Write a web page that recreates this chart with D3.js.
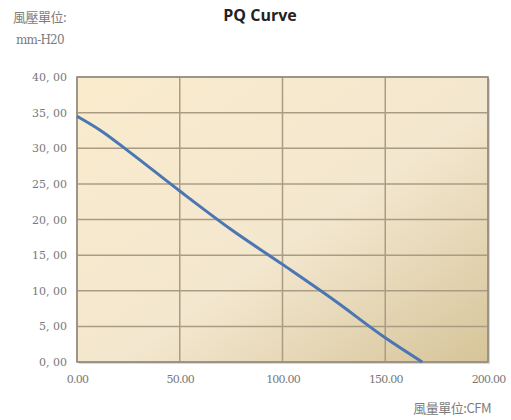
<!DOCTYPE html>
<html>
<head>
<meta charset="utf-8">
<script src="https://cdn.jsdelivr.net/npm/d3@7"></script>
<style>
  body { margin: 0; background: #fff; }
  svg { display: block; }
</style>
</head>
<body>
<div id="chart"></div>
<script>
// air flow (CFM) vs static pressure (mm-H2O)
const flow = [0, 12, 25, 50, 75, 100, 125, 150, 168];
const pressure = [34.5, 32.4, 29.6, 24.0, 18.6, 13.7, 8.7, 3.4, 0];
const xTicks = [0, 50, 100, 150, 200];
const yTicks = [0, 5, 10, 15, 20, 25, 30, 35, 40];

const W = 511, H = 420;
const margin = {top: 77, right: 23, bottom: 58, left: 77};
const width = W - margin.left - margin.right,
height = H - margin.top - margin.bottom;

const svg = d3.select("#chart")
.append("svg")
.attr("width", W)
.attr("height", H);

const defs = svg.append("defs");
const grad = defs.append("linearGradient")
.attr("id", "bg")
.attr("x1", "0%").attr("y1", "0%")
.attr("x2", "100%").attr("y2", "100%");
grad.append("stop").attr("offset", "0%").attr("stop-color", "#faebcc");
grad.append("stop").attr("offset", "55%").attr("stop-color", "#f3e7cf");
grad.append("stop").attr("offset", "100%").attr("stop-color", "#d6c499");

const g = svg.append("g")
.attr("transform", "translate(" + margin.left + "," + margin.top + ")");

const x = d3.scaleLinear().domain([0, 200]).range([0, width]);
const y = d3.scaleLinear().domain([0, 40]).range([height, 0]);

// shadow + background
g.append("rect")
.attr("x", 2).attr("y", 2)
.attr("width", width).attr("height", height)
.attr("fill", "#d8d8d8");
g.append("rect")
.attr("width", width).attr("height", height)
.attr("fill", "url(#bg)");

// grid
g.selectAll(".hgrid")
.data(yTicks)
.enter()
.append("line")
.attr("x1", 0).attr("x2", width)
.attr("y1", d => y(d)).attr("y2", d => y(d))
.attr("stroke", "#aa9c84")
.attr("stroke-width", 1.5);

g.selectAll(".vgrid")
.data(xTicks)
.enter()
.append("line")
.attr("y1", 0).attr("y2", height)
.attr("x1", d => x(d)).attr("x2", d => x(d))
.attr("stroke", "#aa9c84")
.attr("stroke-width", 1.5);

g.append("rect")
.attr("width", width).attr("height", height)
.attr("fill", "none")
.attr("stroke", "#968e84")
.attr("stroke-width", 1.6);

// axes (text only)
const xAxis = g.append("g")
.attr("transform", "translate(0," + height + ")")
.call(d3.axisBottom(x).tickValues(xTicks).tickSize(0).tickPadding(13).tickFormat(d => d.toFixed(2)));
const yAxis = g.append("g")
.call(d3.axisLeft(y).tickValues(yTicks).tickSize(0).tickPadding(10).tickFormat(d => d3.format(".2f")(d).replace(".", ", ")));

[xAxis, yAxis].forEach(a => {
    a.select(".domain").remove();
    a.selectAll("text")
    .attr("fill", "#787878")
    .style("font-family", "'DejaVu Serif', serif")
    .style("font-size", "11px");
});
xAxis.selectAll("text").style("letter-spacing", "-0.8px");

// curve
const pts = flow.map((f, i) => [f, pressure[i]]);
const line = d3.line()
.x(d => x(d[0]))
.y(d => y(d[1]))
.curve(d3.curveMonotoneX);

g.append("path")
.datum(pts)
.attr("d", line)
.attr("fill", "none")
.attr("stroke", "#4a76b4")
.attr("stroke-width", 3);

// title and unit labels
svg.append("text")
.attr("x", 260).attr("y", 21)
.attr("text-anchor", "middle")
.style("font-family", "'Open Sans', sans-serif")
.style("font-weight", "bold")
.style("font-size", "16px")
.attr("fill", "#222")
.text("PQ Curve");

svg.append("text")
.attr("x", 13).attr("y", 22)
.style("font-family", "'Noto Sans CJK TC', sans-serif")
.style("font-size", "13px")
.style("letter-spacing", "-0.5px")
.attr("fill", "#7c7c7c")
.text("風壓單位:");
svg.append("text")
.attr("x", 16).attr("y", 44)
.style("font-family", "'DejaVu Serif', serif")
.style("font-size", "12px")
.style("letter-spacing", "-0.8px")
.attr("fill", "#7c7c7c")
.text("mm-H20");

svg.append("text")
.attr("x", 491).attr("y", 413)
.attr("text-anchor", "end")
.style("font-family", "'Noto Sans CJK TC', sans-serif")
.style("font-size", "13px")
.style("letter-spacing", "-0.5px")
.attr("fill", "#7c7c7c")
.text("風量單位:CFM");
</script>
</body>
</html>
